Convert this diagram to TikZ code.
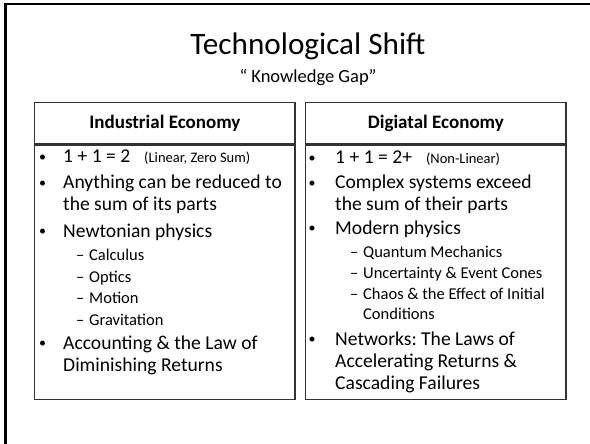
\documentclass[tikz,border=0pt]{standalone}
\usepackage{fontspec}
\setmainfont{Carlito}
\usetikzlibrary{positioning}
\frenchspacing

\begin{document}
\begin{tikzpicture}[
    x=1pt, y=-1pt,
    panel/.style={rectangle, draw=black!80, line width=1.2pt, minimum width=260.3pt, inner sep=0pt},
    head/.style={font=\fontsize{19}{22}\selectfont\bfseries},
    dot/.style={anchor=base west, inner sep=0pt, font=\fontsize{14}{16}\selectfont},
    item/.style={anchor=base west, align=left, inner sep=0pt, font=\fontsize{19.6}{22}\selectfont},
    sdash/.style={anchor=base west, inner sep=0pt, font=\fontsize{16.5}{20}\selectfont},
    subitem/.style={anchor=base west, align=left, inner sep=0pt, font=\fontsize{16.5}{20}\selectfont}
    ]
    \useasboundingbox (0,0) rectangle (590,444);

    % frame
    \draw[line width=2.5pt] (5.5,444) -- (5.5,3.8) -- (590,3.8);

    \node[font=\fontsize{31.2}{36}\selectfont, anchor=base] (title) at (308,55) {Technological Shift};
    \node[font=\fontsize{18.5}{22}\selectfont, anchor=base] (subtitle) at (308,83) {“ Knowledge Gap”};

    \node[panel, head, minimum height=41.7pt] (ihead) at (164.85,123.15) {Industrial Economy};
    \node[panel, minimum height=254.5pt, below=0pt of ihead] (ibody) {};
    \node[panel, head, minimum height=41.7pt] (dhead) at (435.85,123.15) {Digiatal Economy};
    \node[panel, minimum height=254.5pt, below=0pt of dhead] (dbody) {};

    % industrial (multi-line nodes sit on their last line)
    \node[dot] (ib1) at (39,161) {•};
    \node[item] (i1) at (63,163) {1 + 1 = 2\hspace{14pt}{\fontsize{14.5}{16}\selectfont(Linear, Zero Sum)}};
    \node[dot] (ib2) at (39,187) {•};
    \node[item] (i2) at (63,211) {Anything can be reduced to\\the sum of its parts};
    \node[dot] (ib3) at (39,235) {•};
    \node[item] (i3) at (63,237) {Newtonian physics};
    \node[sdash] (id1) at (76,260) {–};
    \node[subitem] (i31) at (89,260) {Calculus};
    \node[sdash] (id2) at (76,282) {–};
    \node[subitem] (i32) at (89,282) {Optics};
    \node[sdash] (id3) at (76,303) {–};
    \node[subitem] (i33) at (89,303) {Motion};
    \node[sdash] (id4) at (76,325) {–};
    \node[subitem] (i34) at (89,325) {Gravitation};
    \node[dot] (ib4) at (39,347) {•};
    \node[item] (i4) at (63,371) {Accounting \& the Law of\\Diminishing Returns};

    % digital
    \node[dot] (db1) at (308.5,162) {•};
    \node[item] (d1) at (335,164) {1 + 1 = 2+\hspace{14pt}{\fontsize{14.5}{16}\selectfont(Non-Linear)}};
    \node[dot] (db2) at (308.5,187) {•};
    \node[item, font=\fontsize{19.6}{21}\selectfont] (d2) at (335,210) {Complex systems exceed\\the sum of their parts};
    \node[dot] (db3) at (308.5,232) {•};
    \node[item] (d3) at (335,234) {Modern physics};
    \node[sdash] (dd1) at (350,257) {–};
    \node[subitem] (d31) at (363,257) {Quantum Mechanics};
    \node[sdash] (dd2) at (350,278) {–};
    \node[subitem] (d32) at (363,278) {Uncertainty \& Event Cones};
    \node[sdash] (dd3) at (350,299) {–};
    \node[subitem] (d33) at (363,319) {Chaos \& the Effect of Initial\\Conditions};
    \node[dot] (db4) at (308.5,343) {•};
    \node[item] (d4) at (335,389) {Networks: The Laws of\\Accelerating Returns \&\\Cascading Failures};
\end{tikzpicture}
\end{document}
